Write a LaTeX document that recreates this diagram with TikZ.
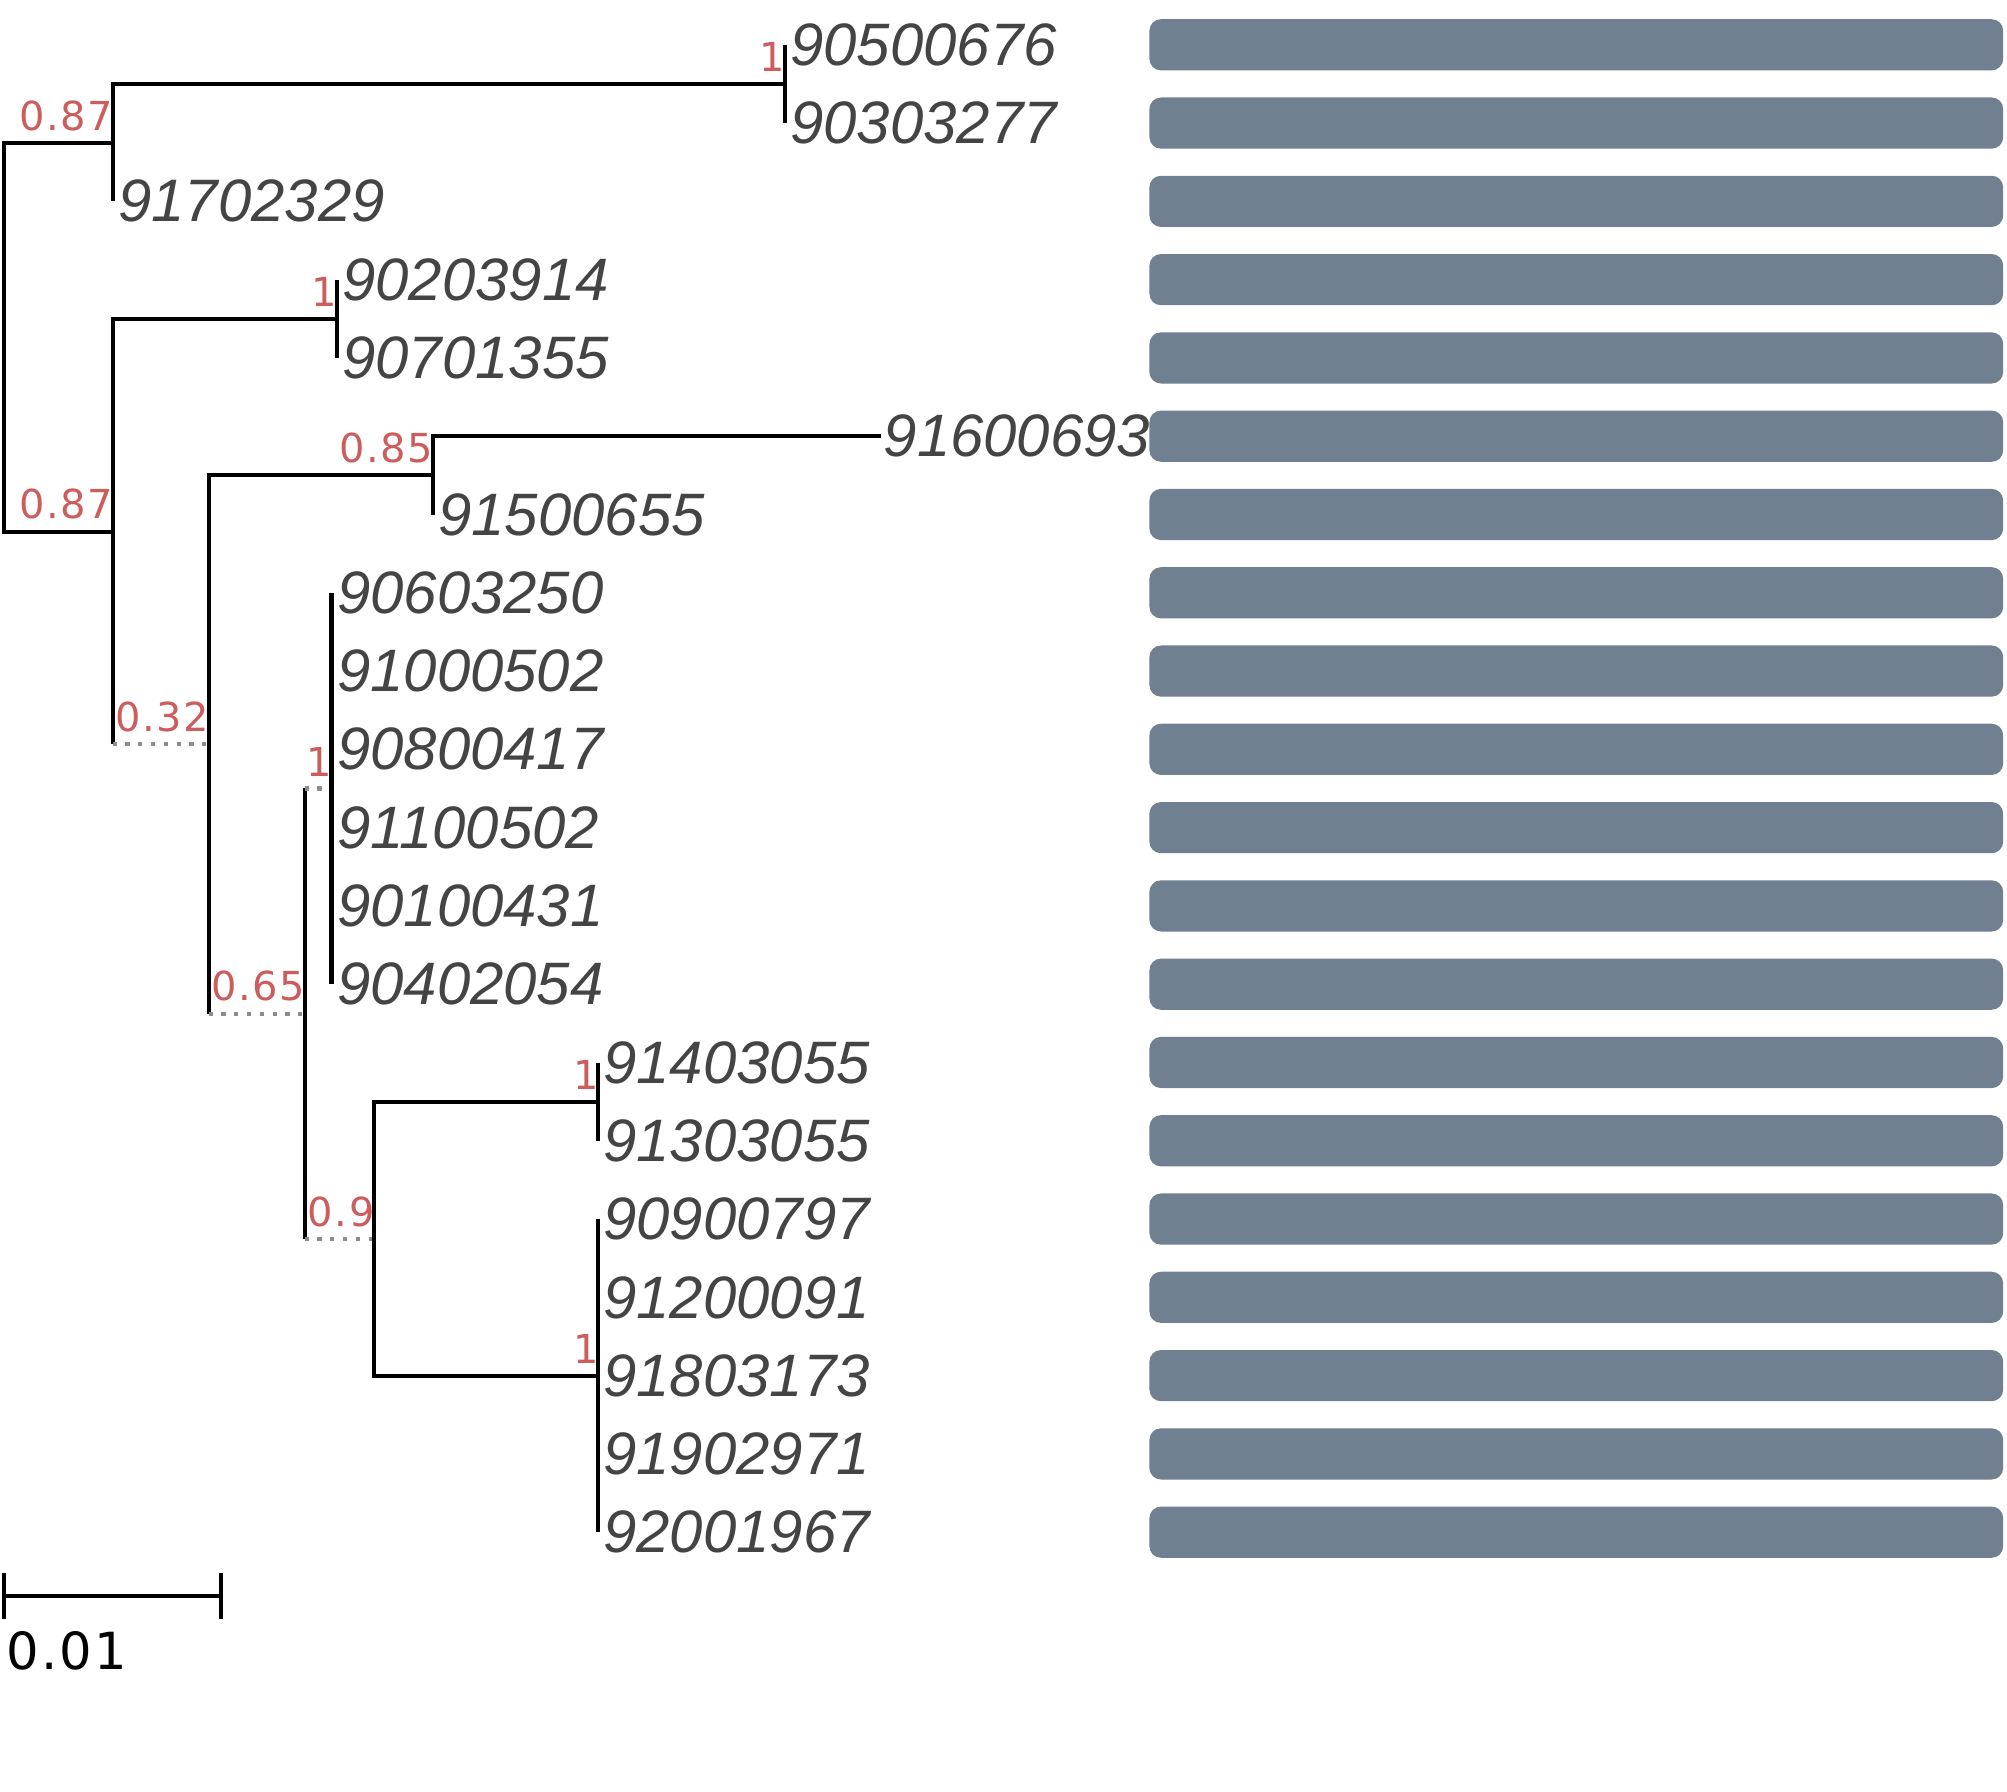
\documentclass[tikz,border=0pt]{standalone}
\usepackage{fontspec}
\newfontfamily\tipfont{Liberation Sans}
\newfontfamily\supfont[LetterSpace=4]{DejaVu Sans}
\newfontfamily\scalefont[LetterSpace=4]{DejaVu Sans}
\definecolor{supred}{RGB}{205,92,92}
\definecolor{tipgray}{RGB}{68,68,68}
\definecolor{dotgray}{RGB}{140,140,140}
\definecolor{barslate}{RGB}{112,128,144}

\begin{document}
\begin{tikzpicture}[x=0.5pt,y=-0.5pt,
    branch/.style={line width=1.6pt},
    weak/.style={draw=dotgray, line width=1.6pt, dash pattern=on 1.6pt off 3.4pt},
    tip/.style={anchor=west, inner sep=0pt, text=tipgray, font=\tipfont\itshape\fontsize{23.4}{24}\selectfont},
    sup/.style={anchor=south east, inner sep=0pt, text=supred, font=\supfont\fontsize{15.6}{16}\selectfont},
    bar/.style={fill=barslate, rounded corners=4.5pt}]
\useasboundingbox (0,0) rectangle (1568,1400);

% bars
\foreach \i in {0,...,19}{
    \pgfmathsetmacro{\ry}{35+61.16*\i}
    \fill[bar] (898,\ry-20) rectangle (1565,\ry+20);
}

% leaves
\coordinate (t1) at (613,35.0);
\coordinate (t2) at (613,96.2);
\coordinate (t3) at (88,157.3);
\coordinate (t4) at (263,218.5);
\coordinate (t5) at (263,279.6);
\coordinate (t6) at (688,340.8);
\coordinate (t7) at (338,402.0);
\coordinate (t8) at (259,463.1);
\coordinate (t9) at (259,524.3);
\coordinate (t10) at (259,585.4);
\coordinate (t11) at (259,646.6);
\coordinate (t12) at (259,707.8);
\coordinate (t13) at (259,768.9);
\coordinate (t14) at (467,830.1);
\coordinate (t15) at (467,891.2);
\coordinate (t16) at (467,952.4);
\coordinate (t17) at (467,1013.6);
\coordinate (t18) at (467,1074.7);
\coordinate (t19) at (467,1135.9);
\coordinate (t20) at (467,1197.0);

% inner nodes
\coordinate (R) at (3,263.4);
\coordinate (A) at (88,111.45);
\coordinate (P) at (613,65.6);
\coordinate (B) at (88,415.3);
\coordinate (Q) at (263,249.05);
\coordinate (C) at (163,581.6);
\coordinate (D) at (338,371.4);
\coordinate (E) at (238,791.85);
\coordinate (F) at (259,616);
\coordinate (G) at (292,967.7);
\coordinate (H) at (467,860.65);
\coordinate (I) at (467,1074.7);

\draw[branch] (R) |- (A);
\draw[branch] (R) |- (B);
\draw[branch] (A) |- (P);
\draw[branch] (A) |- (t3);
\draw[branch] (P) |- (t1);
\draw[branch] (P) |- (t2);
\draw[branch] (B) |- (Q);
\draw[branch] (B) -- (B |- C);
\draw[weak] (B |- C) -- (C);
\draw[branch] (Q) |- (t4);
\draw[branch] (Q) |- (t5);
\draw[branch] (C) |- (D);
\draw[branch] (C) -- (C |- E);
\draw[weak] (C |- E) -- (E);
\draw[branch] (D) |- (t6);
\draw[branch] (D) |- (t7);
\draw[branch] (E) -- (E |- F);
\draw[weak] (E |- F) -- (F);
\draw[branch] (E) -- (E |- G);
\draw[weak] (E |- G) -- (G);
\draw[branch] (F) |- (t8);
\draw[branch] (F) |- (t13);
\draw[branch] (G) |- (H);
\draw[branch] (G) |- (I);
\draw[branch] (H) |- (t14);
\draw[branch] (H) |- (t15);
\draw[branch] (I) |- (t16);
\draw[branch] (I) |- (t20);

\node[tip] (n1) at ([xshift=2pt]t1) {90500676};
\node[tip] (n2) at ([xshift=2pt]t2) {90303277};
\node[tip] (n3) at ([xshift=2pt]t3) {91702329};
\node[tip] (n4) at ([xshift=2pt]t4) {90203914};
\node[tip] (n5) at ([xshift=2pt]t5) {90701355};
\node[tip] (n6) at ([xshift=1pt]t6) {91600693};
\node[tip] (n7) at ([xshift=2pt]t7) {91500655};
\node[tip] (n8) at ([xshift=2pt]t8) {90603250};
\node[tip] (n9) at ([xshift=2pt]t9) {91000502};
\node[tip] (n10) at ([xshift=2pt]t10) {90800417};
\node[tip] (n11) at ([xshift=2pt]t11) {91100502};
\node[tip] (n12) at ([xshift=2pt]t12) {90100431};
\node[tip] (n13) at ([xshift=2pt]t13) {90402054};
\node[tip] (n14) at ([xshift=2pt]t14) {91403055};
\node[tip] (n15) at ([xshift=2pt]t15) {91303055};
\node[tip] (n16) at ([xshift=2pt]t16) {90900797};
\node[tip] (n17) at ([xshift=2pt]t17) {91200091};
\node[tip] (n18) at ([xshift=2pt]t18) {91803173};
\node[tip] (n19) at ([xshift=2pt]t19) {91902971};
\node[tip] (n20) at ([xshift=2pt]t20) {92001967};

\node[sup] (sA) at ([xshift=0.5pt,yshift=4.5pt]A) {0.87};
\node[sup] (sP) at ([xshift=0.5pt,yshift=4.5pt]P) {1};
\node[sup] (sB) at ([xshift=0.5pt,yshift=4.5pt]B) {0.87};
\node[sup] (sQ) at ([xshift=0.5pt,yshift=4.5pt]Q) {1};
\node[sup] (sC) at ([xshift=0.5pt,yshift=4.5pt]C) {0.32};
\node[sup] (sD) at ([xshift=0.5pt,yshift=4.5pt]D) {0.85};
\node[sup] (sE) at ([xshift=0.5pt,yshift=4.5pt]E) {0.65};
\node[sup] (sF) at ([xshift=0.5pt,yshift=4.5pt]F) {1};
\node[sup] (sG) at ([xshift=0.5pt,yshift=4.5pt]G) {0.9};
\node[sup] (sH) at ([xshift=0.5pt,yshift=4.5pt]H) {1};
\node[sup] (sI) at ([xshift=0.5pt,yshift=4.5pt]I) {1};

% scale
\coordinate (s0) at (3,1247);
\coordinate (s1) at (173,1247);
\draw[branch] (s0) -- (s1);
\draw[branch] ([yshift=9pt]s0) -- ([yshift=-9pt]s0);
\draw[branch] ([yshift=9pt]s1) -- ([yshift=-9pt]s1);
\node[anchor=west, inner sep=0pt, font=\scalefont\fontsize{20}{20}\selectfont] (sl) at (5,1290) {0.01};
\end{tikzpicture}
\end{document}
